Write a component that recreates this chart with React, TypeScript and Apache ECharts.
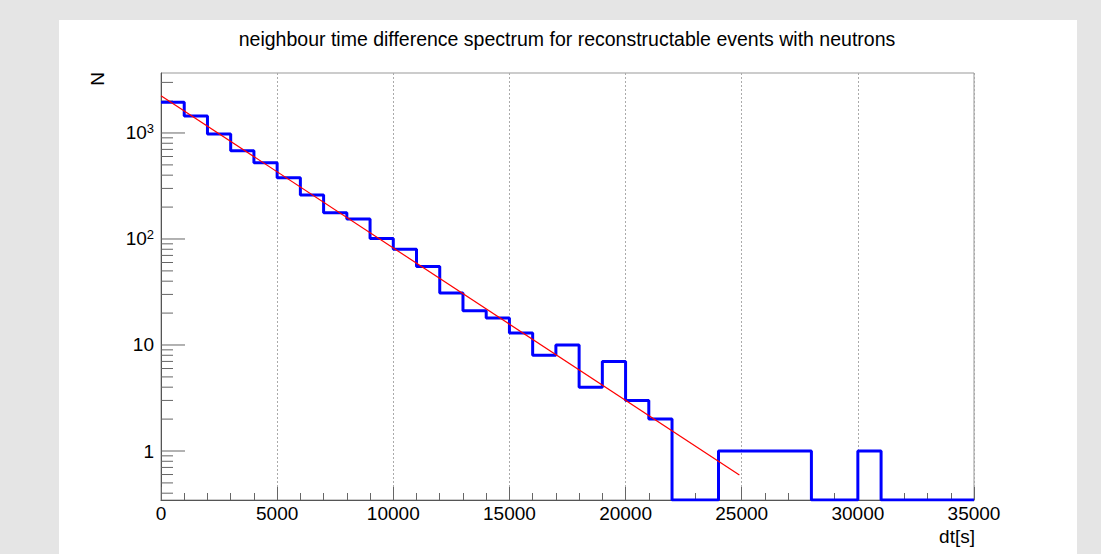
import React, { useEffect, useRef } from "react";
import * as echarts from "echarts";

// ---- data ----
const binWidth = 1000;
const binStarts = [
  0, 1000, 2000, 3000, 4000, 5000, 6000, 7000, 8000, 9000,
  10000, 11000, 12000, 13000, 14000, 15000, 16000, 17000, 18000, 19000,
  20000, 21000, 22000, 23000, 24000, 25000, 26000, 27000, 28000, 29000,
  30000, 31000, 32000, 33000, 34000,
];
const counts = [
  1950, 1450, 980, 680, 525, 378, 260, 177, 154, 101,
  80, 55, 31, 21, 18, 13, 8, 10, 4, 7,
  3, 2, 0, 0, 1, 1, 1, 1, 0, 0,
  1, 0, 0, 0, 0,
];
const fitX = [0, 24900];
const fitY = [2250, 0.595];

const xTickValues = [0, 5000, 10000, 15000, 20000, 25000, 30000, 35000];
const yMajorTicks = [1, 10, 100, 1000];
const yMinorTicks = [
  0.4, 0.5, 0.6, 0.7, 0.8, 0.9,
  2, 3, 4, 5, 6, 7, 8, 9,
  20, 30, 40, 50, 60, 70, 80, 90,
  200, 300, 400, 500, 600, 700, 800, 900,
  2000, 3000,
];

const Y_MIN = 0.345;
const Y_MAX = 3680;
const X_MIN = xTickValues[0];
const X_MAX = xTickValues[xTickValues.length - 1];

const FONT = "Liberation Sans, Arial, Helvetica, sans-serif";

export default function App() {
  const ref = useRef<HTMLDivElement>(null);

  useEffect(() => {
    if (!ref.current) return;
    const chart = echarts.init(ref.current, undefined, { renderer: "svg" });

    const histData: [number, number][] = binStarts.map((x, i) => [
      x,
      counts[i] > 0 ? counts[i] : Y_MIN,
    ]);
    const last = counts[counts.length - 1];
    histData.push([
      binStarts[binStarts.length - 1] + binWidth,
      last > 0 ? last : Y_MIN,
    ]);

    const fitData = fitX.map((x, i) => [x, fitY[i]]);

    const tickData = [
      ...yMajorTicks.map((v) => [X_MIN, v, 24]),
      ...yMinorTicks.map((v) => [X_MIN, v, 12]),
    ];

    chart.setOption({
      animation: false,
      backgroundColor: "#e5e5e5",
      textStyle: { fontFamily: FONT },
      graphic: [
        {
          type: "rect",
          z: -10,
          silent: true,
          shape: { x: 59, y: 20, width: 1018, height: 534 },
          style: { fill: "#ffffff" },
        },
        {
          type: "text",
          x: 567,
          y: 39,
          style: {
            text: "neighbour time difference spectrum for reconstructable events with neutrons",
            font: `19.5px ${FONT}`,
            fill: "#000",
            textAlign: "center",
            textVerticalAlign: "middle",
          },
        },
        {
          type: "text",
          x: 97,
          y: 79,
          rotation: Math.PI / 2,
          style: {
            text: "N",
            font: `19px ${FONT}`,
            fill: "#000",
            textAlign: "center",
            textVerticalAlign: "middle",
          },
        },
        {
          type: "text",
          x: 975,
          y: 536,
          style: {
            text: "dt[s]",
            font: `19px ${FONT}`,
            fill: "#000",
            textAlign: "right",
            textVerticalAlign: "middle",
          },
        },
      ],
      grid: {
        left: 161,
        top: 73,
        right: 127,
        bottom: 54,
        show: true,
        borderColor: "#999",
        borderWidth: 1,
        backgroundColor: "transparent",
      },
      xAxis: {
        type: "value",
        min: X_MIN,
        max: X_MAX,
        interval: 5000,
        axisLine: { show: true, lineStyle: { color: "#555", width: 1 } },
        axisTick: { show: true, inside: true, length: 13, lineStyle: { color: "#666" } },
        minorTick: { show: true, splitNumber: 5, length: 7, lineStyle: { color: "#666" } },
        splitLine: {
          show: true,
          lineStyle: { color: "#aaa", type: [2, 2], width: 1 },
        },
        axisLabel: {
          color: "#000",
          fontSize: 19,
          fontFamily: FONT,
          margin: 4,
          showMinLabel: true,
          showMaxLabel: true,
          formatter: (v: number) => String(Math.round(v)),
        },
      },
      yAxis: {
        type: "log",
        logBase: 10,
        min: Y_MIN,
        max: Y_MAX,
        splitNumber: 4,
        axisLine: { show: true, lineStyle: { color: "#555", width: 1 } },
        axisTick: { show: false },
        splitLine: { show: false },
        axisLabel: {
          color: "#000",
          fontSize: 19,
          fontFamily: FONT,
          margin: 7,
          formatter: (v: number) => {
            const lg = Math.log10(v);
            const e = Math.round(lg);
            if (Math.abs(lg - e) > 1e-6) return "";
            if (e === 0) return "1";
            if (e === 1) return "10";
            return `{b|10}{s|${e}}`;
          },
          rich: {
            b: { fontSize: 19, fontFamily: FONT, color: "#000", lineHeight: 22 },
            s: {
              fontSize: 13,
              fontFamily: FONT,
              color: "#000",
              verticalAlign: "top",
              lineHeight: 12,
            },
          },
        },
      },
      series: [
        {
          type: "custom",
          silent: true,
          z: 1,
          renderItem: (params: any, api: any) => {
            const v = api.value(1);
            const len = api.value(2);
            const p = api.coord([api.value(0), v]);
            return {
              type: "line",
              shape: { x1: p[0], y1: p[1], x2: p[0] + len, y2: p[1] },
              style: { stroke: "#666", lineWidth: 1 },
            };
          },
          data: tickData,
        },
        {
          type: "line",
          step: "end",
          symbol: "none",
          z: 3,
          data: histData,
          lineStyle: { color: "#0000ff", width: 3 },
          clip: true,
        },
        {
          type: "line",
          symbol: "none",
          z: 4,
          data: fitData,
          lineStyle: { color: "#ff0000", width: 1.2 },
        },
      ],
    });

    return () => chart.dispose();
  }, []);

  return (
    <div
      ref={ref}
      style={{
        position: "fixed",
        left: 0,
        top: 0,
        width: 1101,
        height: 554,
      }}
    />
  );
}
